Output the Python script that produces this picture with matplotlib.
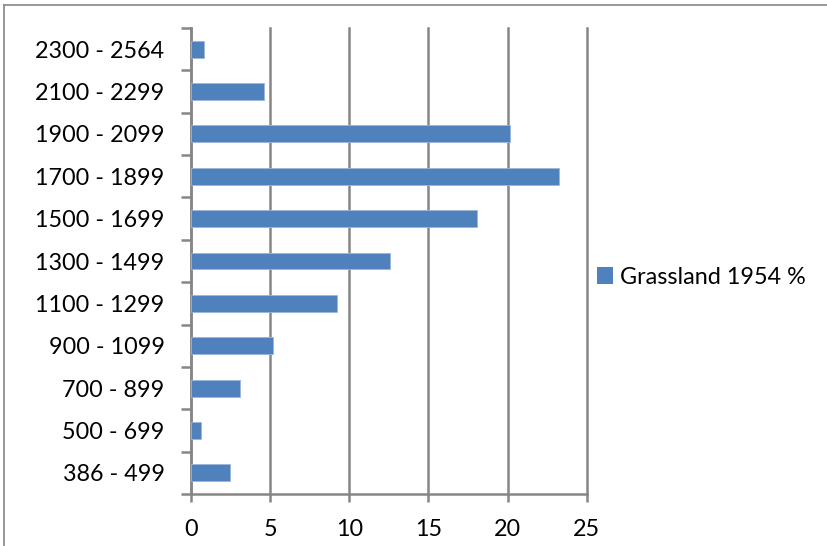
import matplotlib
matplotlib.use("Agg")
import matplotlib.pyplot as plt
from matplotlib.patches import Rectangle
from matplotlib.lines import Line2D

plt.rcParams['font.family'] = ['Lato', 'DejaVu Sans']

# Elevation bands (m), bottom to top, and share of grassland in 1954 (%)
elevation_bands = ["386 - 499", "500 - 699", "700 - 899", "900 - 1099", "1100 - 1299",
                   "1300 - 1499", "1500 - 1699", "1700 - 1899", "1900 - 2099",
                   "2100 - 2299", "2300 - 2564"]
grassland_1954 = [2.46, 0.65, 3.07, 5.2, 9.24, 12.57, 18.05, 23.25, 20.17, 4.63, 0.8]
x_ticks = [0, 5, 10, 15, 20, 25]
series_name = "Grassland 1954 %"

bar_color = "#4F81BD"
grid_color = "#868686"
label_size = 16.8

fig = plt.figure(figsize=(8.27, 5.46), dpi=100)
ax = fig.add_axes([191 / 827, 1 - 494 / 546, (586.7 - 191) / 827, (494 - 28) / 546])

positions = list(range(len(elevation_bands)))
bars = ax.barh(positions, grassland_1954, height=0.4, color=bar_color,
               edgecolor="#9DB5DA", linewidth=0.6, zorder=3, label=series_name)

ax.set_xlim(0, 25)
ax.set_ylim(-0.5, len(elevation_bands) - 0.5)
ax.set_xticks(x_ticks)
ax.set_xticklabels([str(t) for t in x_ticks])

# Category labels centred on bars, tick marks between categories
ax.set_yticks(positions)
ax.set_yticklabels(elevation_bands)
ax.set_yticks([p - 0.5 for p in positions] + [len(positions) - 0.5], minor=True)
ax.tick_params(axis='y', which='major', length=0, pad=19, labelsize=label_size)
ax.tick_params(axis='y', which='minor', length=7, width=1.8, color=grid_color, direction='out')
ax.tick_params(axis='x', which='major', length=6, width=1.8, color=grid_color,
               direction='out', pad=12, labelsize=label_size)

ax.grid(axis='x', color=grid_color, linewidth=1.8, zorder=0)
for gl in ax.get_xgridlines():
    gl.set_clip_on(False)
for side in ('top', 'right'):
    ax.spines[side].set_visible(False)
for side in ('left', 'bottom'):
    ax.spines[side].set_color(grid_color)
    ax.spines[side].set_linewidth(1.8)

# Legend to the right of the plot
handle = Rectangle((0, 0), 1, 1, facecolor=bar_color, edgecolor='none')
fig.legend([handle], [series_name], loc='center left',
           bbox_to_anchor=(585 / 827, 1 - 277 / 546), frameon=False,
           handlelength=0.7, handleheight=0.7, handletextpad=0.3,
           borderpad=0, fontsize=label_size)

# Chart area frame
fig.add_artist(Line2D([3.5 / 827, 3.5 / 827], [0, 1 - 4.5 / 546], color=grid_color,
                      linewidth=1.2, transform=fig.transFigure))
fig.add_artist(Line2D([3.5 / 827, 1], [1 - 4.5 / 546, 1 - 4.5 / 546], color=grid_color,
                      linewidth=1.2, transform=fig.transFigure))

fig.savefig("out.png", dpi=100, facecolor="white")
